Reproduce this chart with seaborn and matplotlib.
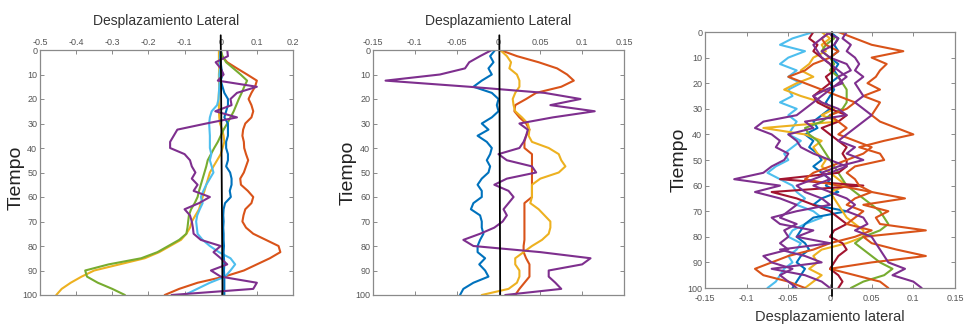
import numpy as np
import pandas as pd
import matplotlib
matplotlib.use("Agg")
import matplotlib.pyplot as plt
import seaborn as sns

# ---------------- data ----------------
T = np.linspace(0, 100, 41)  # sampling instants (Tiempo), step 2.5

# Panel 1
p1_orange = [0.0, 0.003, 0.018, 0.045, 0.073, 0.1, 0.095, 0.085, 0.077, 0.085, 0.09, 0.085, 0.068,
             0.062, 0.06, 0.064, 0.065, 0.07, 0.076, 0.07, 0.064, 0.054, 0.056, 0.075, 0.09, 0.085,
             0.068, 0.063, 0.06, 0.07, 0.09, 0.125, 0.16, 0.165, 0.136, 0.1, 0.064, 0.01, -0.064,
             -0.115, -0.155]
p1_yellow = [-0.005, -0.005, -0.005, -0.004, -0.005, -0.005, -0.004, -0.005, -0.006, -0.005, -0.005,
             -0.004, -0.002, 0.004, 0.008, 0.01, 0.005, 0.0, -0.01, -0.02, -0.03, -0.035, -0.04, -0.045,
             -0.05, -0.055, -0.06, -0.07, -0.08, -0.085, -0.095, -0.11, -0.14, -0.17, -0.21, -0.28,
             -0.35, -0.385, -0.415, -0.44, -0.455]
p1_green = [0.0, 0.005, 0.015, 0.035, 0.055, 0.073, 0.065, 0.058, 0.05, 0.043, 0.036, 0.027, 0.018,
            0.008, 0.0, -0.008, -0.018, -0.027, -0.036, -0.04, -0.045, -0.05, -0.055, -0.06, -0.064,
            -0.072, -0.082, -0.088, -0.09, -0.092, -0.095, -0.115, -0.145, -0.175, -0.22, -0.31,
            -0.375, -0.37, -0.34, -0.3, -0.265]
p1_lightblue = [0.0, -0.002, -0.003, -0.002, -0.004, -0.003, -0.004, -0.005, -0.006, -0.01, -0.025,
                -0.03, -0.032, -0.031, -0.03, -0.03, -0.03, -0.026, -0.03, -0.025, -0.02, -0.03, -0.04,
                -0.048, -0.055, -0.05, -0.058, -0.065, -0.068, -0.066, -0.064, -0.05, -0.03, -0.005,
                0.027, 0.04, 0.027, 0.012, -0.03, -0.065, -0.1]
p1_blue = [0.0, 0.0, 0.0, 0.002, 0.005, 0.0, 0.005, 0.01, 0.02, 0.02, 0.015, 0.01, 0.02, 0.02, 0.02,
           0.015, 0.015, 0.02, 0.02, 0.015, 0.026, 0.03, 0.03, 0.025, 0.028, 0.012, 0.008, 0.007,
           0.008, 0.007, 0.008, 0.008, 0.009, 0.008, 0.009, 0.01, 0.009, 0.01, 0.01, 0.01, 0.01]
p1_purple = [0.018, 0.02, -0.014, 0.0, 0.008, -0.008, 0.1, 0.045, 0.027, 0.03, -0.015, 0.045, -0.04,
             -0.12, -0.13, -0.14, -0.14, -0.1, -0.085, -0.08, -0.07, -0.08, -0.064, -0.075, -0.03,
             -0.06, -0.1, -0.085, -0.08, -0.077, -0.075, -0.055, 0.0, -0.02, 0.0, 0.018, -0.027,
             0.0, 0.1, 0.09, -0.136]
p1_black_t = [-6, 100]
p1_black_x = [0.0, 0.005]

# Panel 2
p2_orange = [0.002, 0.022, 0.048, 0.07, 0.082, 0.09, 0.075, 0.045, 0.033, 0.02, 0.019, 0.025, 0.033,
             0.037, 0.033, 0.031, 0.031, 0.04, 0.04, 0.04, 0.04, 0.04, 0.04, 0.04, 0.04, 0.031, 0.031,
             0.031, 0.031, 0.031, 0.031, 0.031, 0.03, 0.03, 0.033, 0.037, 0.037, 0.037, 0.031, 0.025,
             0.02]
p2_yellow = [0.002, 0.01, 0.015, 0.013, 0.022, 0.025, 0.025, 0.02, 0.017, 0.018, 0.02, 0.028, 0.035,
             0.037, 0.036, 0.04, 0.06, 0.072, 0.075, 0.08, 0.072, 0.05, 0.04, 0.04, 0.04, 0.038, 0.048,
             0.055, 0.062, 0.062, 0.06, 0.052, 0.04, 0.03, 0.02, 0.02, 0.025, 0.025, 0.022, 0.012,
             -0.02]
p2_blue = [-0.004, -0.01, -0.006, -0.012, -0.008, -0.02, -0.03, -0.008, 0.0, -0.002, 0.0, -0.008,
           -0.02, -0.012, -0.025, -0.014, -0.008, -0.01, -0.014, -0.01, -0.012, -0.02, -0.025, -0.02,
           -0.02, -0.03, -0.033, -0.022, -0.02, -0.02, -0.018, -0.022, -0.025, -0.025, -0.016, -0.023,
           -0.016, -0.012, -0.03, -0.042, -0.046]
p2_purple = [-0.008, -0.022, -0.035, -0.04, -0.07, -0.135, -0.035, 0.055, 0.098, 0.062, 0.115, 0.065,
             0.025, 0.035, 0.033, 0.03, 0.025, 0.0, 0.01, 0.04, 0.045, 0.01, -0.005, 0.012, 0.018,
             0.012, 0.006, 0.01, 0.005, -0.005, -0.022, -0.042, -0.03, 0.05, 0.11, 0.1, 0.06, 0.06,
             0.068, 0.075, 0.008]
p2_black_t = [-6, 100]
p2_black_x = [0.001, 0.002]

# Panel 3
p3_orange_a = [0.01, 0.03, 0.05, 0.088, 0.05, 0.068, 0.06, 0.055, 0.045, 0.06, 0.04, 0.06, 0.055, 0.05,
               0.06, 0.08, 0.1, 0.065, 0.035, 0.06, 0.065, 0.03, 0.02, 0.03, 0.035, 0.05, 0.09, 0.04,
               0.07, 0.055, 0.06, 0.115, 0.04, 0.05, 0.08, 0.115, 0.05, 0.0, 0.03, 0.06, 0.07]
p3_orange_b = [0.0, -0.01, -0.005, 0.01, 0.0, -0.02, -0.03, -0.05, -0.03, -0.01, 0.01, 0.03, 0.02, 0.0,
               0.01, 0.02, 0.01, 0.03, 0.05, 0.04, 0.02, 0.0, -0.02, -0.03, 0.01, 0.05, 0.03, 0.02, 0.04,
               0.03, 0.02, 0.05, 0.03, 0.0, -0.02, -0.05, -0.07, -0.09, -0.08, -0.05, -0.03]
p3_purple_a = [0.0, -0.01, -0.02, -0.015, -0.01, 0.0, 0.01, 0.02, 0.01, 0.0, -0.01, -0.02, -0.03, -0.04,
               -0.08, -0.09, -0.07, -0.06, -0.065, -0.05, -0.055, -0.07, -0.08, -0.115, -0.06, -0.09,
               -0.06, -0.04, -0.05, -0.06, -0.04, -0.055, -0.05, -0.06, -0.05, -0.08, -0.07, -0.045,
               -0.06, -0.05, -0.04]
p3_purple_b = [0.02, 0.015, 0.025, 0.02, 0.03, 0.035, 0.03, 0.04, 0.03, 0.035, 0.04, 0.03, 0.04, 0.05,
               0.04, 0.03, 0.02, 0.01, 0.03, 0.02, 0.04, 0.01, -0.01, 0.0, -0.02, 0.0, 0.02, 0.03, 0.02,
               0.04, 0.045, 0.03, 0.05, 0.055, 0.06, 0.065, 0.07, 0.09, 0.075, 0.1, 0.11]
p3_purple_c = [-0.005, 0.01, 0.005, -0.01, 0.0, 0.02, 0.025, 0.01, 0.015, -0.005, -0.02, -0.01, 0.01,
               0.02, -0.03, -0.02, -0.05, -0.04, -0.035, -0.02, 0.0, 0.02, 0.0, -0.02, -0.04, -0.03,
               -0.01, 0.0, -0.04, -0.07, -0.06, -0.02, -0.04, 0.0, -0.06, -0.03, -0.01, -0.07, -0.03,
               -0.01, 0.0]
p3_darkred = [-0.02, -0.025, -0.015, -0.02, -0.01, 0.0, 0.005, -0.005, 0.0, -0.01, -0.02, -0.015, 0.0,
              0.02, 0.01, -0.01, 0.0, 0.01, 0.02, 0.015, 0.02, 0.02, 0.01, -0.06, 0.04, -0.07, -0.04,
              -0.02, 0.0, 0.01, 0.02, 0.005, 0.0, 0.015, 0.02, 0.01, 0.005, 0.0, 0.01, 0.015, 0.01]
p3_lightblue = [-0.02, -0.045, -0.06, -0.03, -0.05, -0.06, -0.04, -0.05, -0.035, -0.05, -0.045, -0.06,
                -0.04, -0.05, -0.04, -0.045, -0.05, -0.035, -0.045, -0.055, -0.05, -0.065, -0.075,
                -0.06, -0.045, -0.04, -0.03, -0.04, -0.02, -0.01, -0.03, -0.045, -0.05, -0.035, -0.04,
                -0.05, -0.045, -0.055, -0.06, -0.065, -0.075]
p3_blue = [0.0, 0.01, 0.005, 0.01, 0.0, 0.01, 0.005, 0.01, 0.0, 0.005, 0.0, -0.005, 0.0, -0.01, -0.02,
           -0.015, -0.03, -0.02, -0.025, -0.015, -0.01, -0.02, -0.01, 0.0, -0.005, 0.01, -0.01, -0.02,
           0.02, -0.02, -0.03, -0.035, -0.04, -0.03, -0.025, -0.035, -0.04, -0.03, -0.035, -0.04,
           -0.045]
p3_yellow = [-0.01, 0.0, -0.01, -0.005, -0.02, -0.025, -0.035, -0.02, -0.04, -0.055, -0.035, -0.01,
             0.005, -0.01, 0.01, -0.08, -0.03, -0.01, -0.02, -0.015, -0.005, -0.01, 0.0, 0.01, 0.02,
             0.0, 0.005, 0.01, 0.015, 0.02, 0.03, 0.04, 0.04, 0.02, -0.01, -0.02, -0.015, -0.025,
             -0.01, -0.02, -0.03]
p3_green = [0.0, 0.005, -0.005, -0.01, 0.0, 0.005, 0.0, 0.01, 0.015, 0.02, 0.02, 0.02, 0.015, 0.0,
            -0.01, -0.03, -0.025, -0.015, -0.01, -0.005, 0.0, 0.005, 0.01, 0.015, 0.02, 0.03, 0.04,
            0.05, 0.06, 0.065, 0.07, 0.06, 0.04, 0.03, 0.04, 0.05, 0.06, 0.075, 0.065, 0.04, 0.025]
p3_black_t = [0, 103]
p3_black_x = [0.002, 0.002]

# Ticks
y_ticks = [0, 10, 20, 30, 40, 50, 60, 70, 80, 90, 100]
y_ticklabels = ["0", "10", "20", "30", "40", "50", "60", "70", "80", "90", "100"]
p1_xticks = [-0.5, -0.4, -0.3, -0.2, -0.1, 0.0, 0.1, 0.2]
p1_xticklabels = ["-0.5", "-0.4", "-0.3", "-0.2", "-0.1", "0", "0.1", "0.2"]
p23_xticks = [-0.15, -0.1, -0.05, 0.0, 0.05, 0.1, 0.15]
p23_xticklabels = ["-0.15", "-0.1", "-0.05", "0", "0.05", "0.1", "0.15"]

# MATLAB default palette
C_BLUE = "#0072BD"
C_ORANGE = "#D95319"
C_YELLOW = "#EDB120"
C_PURPLE = "#7E2F8E"
C_GREEN = "#77AC30"
C_LBLUE = "#4DBEEE"
C_DRED = "#A2142F"

# ---------------- plotting ----------------
sns.set_theme(style="white")
plt.rcParams['font.family'] = ['Liberation Sans', 'DejaVu Sans']

fig = plt.figure(figsize=(9.66, 3.30), dpi=100)
ax1 = fig.add_axes([40 / 966, 1 - 295 / 330, 253 / 966, 245 / 330])
ax2 = fig.add_axes([373 / 966, 1 - 295 / 330, 251 / 966, 245 / 330])
ax3 = fig.add_axes([705 / 966, 1 - 288 / 330, 250 / 966, 256 / 330])

LW = 1.5


def draw(ax, series):
    for vals, col in series:
        df = pd.DataFrame({"x": vals, "t": T})
        sns.lineplot(data=df, x="x", y="t", sort=False, estimator=None,
                     color=col, lw=LW, ax=ax)


def draw_black(ax, xs, ts):
    sns.lineplot(x=xs, y=ts, sort=False, estimator=None, color="black", lw=1.3, ax=ax)
    ax.lines[-1].set_clip_on(False)


def style(ax, xlim, xticks, xticklabels, top_labels):
    ax.set_xlim(*xlim)
    ax.set_ylim(100, 0)
    ax.set_xticks(xticks)
    ax.set_xticklabels(xticklabels)
    ax.set_yticks(y_ticks)
    ax.set_yticklabels(y_ticklabels)
    ax.set_xlabel("")
    ax.set_ylabel("")
    for s in ax.spines.values():
        s.set_color("#8a8a8a")
        s.set_linewidth(0.9)
    ax.tick_params(direction="in", length=3, width=0.7, color="#8a8a8a",
                   labelsize=6.5, labelcolor="#555555",
                   top=True, right=True, bottom=True, left=True, pad=2)
    if top_labels:
        ax.tick_params(axis="x", labeltop=True, labelbottom=False)
    else:
        ax.tick_params(axis="x", labeltop=False, labelbottom=True, pad=4)


draw(ax1, [(p1_orange, C_ORANGE), (p1_yellow, C_YELLOW), (p1_green, C_GREEN),
           (p1_lightblue, C_LBLUE), (p1_blue, C_BLUE), (p1_purple, C_PURPLE)])
draw_black(ax1, p1_black_x, p1_black_t)
style(ax1, (-0.5, 0.2), p1_xticks, p1_xticklabels, True)

draw(ax2, [(p2_blue, C_BLUE), (p2_orange, C_ORANGE), (p2_yellow, C_YELLOW), (p2_purple, C_PURPLE)])
draw_black(ax2, p2_black_x, p2_black_t)
style(ax2, (-0.15, 0.15), p23_xticks, p23_xticklabels, True)

draw(ax3, [(p3_lightblue, C_LBLUE), (p3_blue, C_BLUE), (p3_yellow, C_YELLOW), (p3_green, C_GREEN),
           (p3_darkred, C_DRED), (p3_orange_b, C_ORANGE), (p3_purple_c, C_PURPLE),
           (p3_orange_a, C_ORANGE), (p3_purple_a, C_PURPLE), (p3_purple_b, C_PURPLE)])
draw_black(ax3, p3_black_x, p3_black_t)
style(ax3, (-0.15, 0.15), p23_xticks, p23_xticklabels, False)

for ax in (ax1, ax2):
    ax.text(0.5, 1.118, "Desplazamiento Lateral", transform=ax.transAxes,
            ha="center", va="center", fontsize=10, color="#333333")

for ax, xc, yc in ((ax1, -0.095, 0.48), (ax2, -0.10, 0.5), (ax3, -0.104, 0.5)):
    ax.set_ylabel("Tiempo", fontsize=14, color="#222222")
    ax.yaxis.set_label_coords(xc, yc)
    ax.yaxis.label.set_va("center")

ax3.set_xlabel("Desplazamiento lateral", fontsize=10.5, color="#333333")
ax3.xaxis.set_label_coords(0.5, -0.113)
ax3.xaxis.label.set_va("center")

fig.savefig("out.png", dpi=100)
